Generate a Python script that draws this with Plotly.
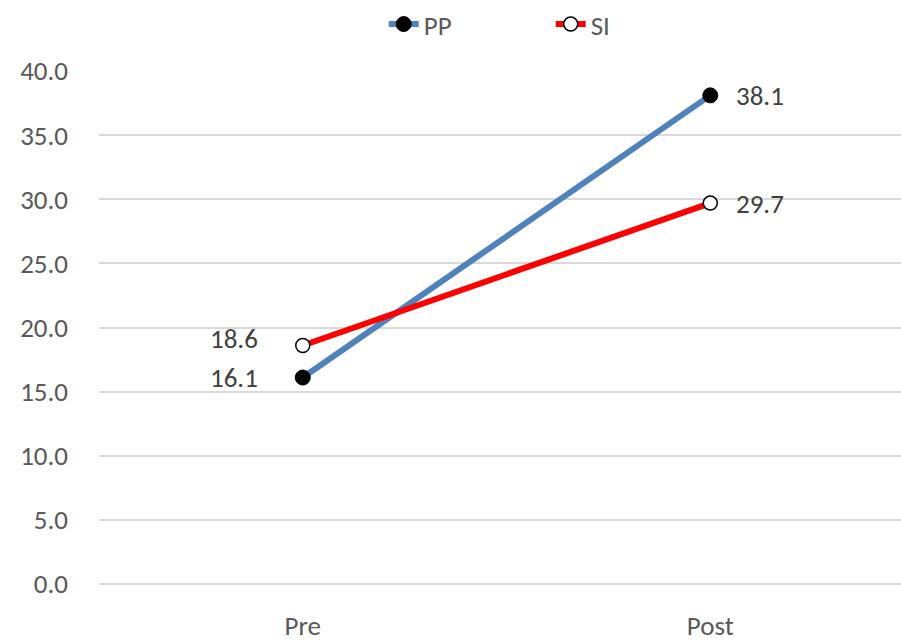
import plotly.graph_objects as go

# Mean scores before and after
categories = ["Pre", "Post"]
pp_values = [16.1, 38.1]
si_values = [18.6, 29.7]
y_ticks = [0, 5, 10, 15, 20, 25, 30, 35, 40]

FONT = "Carlito, Lato, sans-serif"
GRAY = "#595959"

fig = go.Figure()

fig.add_trace(go.Scatter(
    x=categories, y=pp_values, name="PP", mode="lines+markers",
    line=dict(color="#4F81BD", width=6),
    marker=dict(color="black", size=15, line=dict(color="black", width=1)),
))
fig.add_trace(go.Scatter(
    x=categories, y=si_values, name="SI", mode="lines+markers",
    line=dict(color="#FF0000", width=6),
    marker=dict(color="white", size=14, line=dict(color="black", width=1.5)),
))

# value labels: left of the first point, right of the second;
# the upper series' first label is lifted a little to clear the other one
label_lift = {"PP": 0, "SI": 7}
for name, series in (("PP", pp_values), ("SI", si_values)):
    for i, (cat, v) in enumerate(zip(categories, series)):
        left = i == 0
        fig.add_annotation(
            x=cat, y=v, text=f"{v:.1f}", showarrow=False,
            xanchor="right" if left else "left",
            xshift=-43 if left else 24,
            yshift=label_lift[name] if left else 0,
            font=dict(family=FONT, size=27, color="#404040"),
        )

fig.update_layout(
    width=901, height=641,
    margin=dict(l=99, r=0, t=71, b=57),
    paper_bgcolor="white", plot_bgcolor="white",
    showlegend=True,
    legend=dict(
        orientation="h", x=0.355, xref="paper", xanchor="left",
        y=1.0, yref="container", yanchor="top",
        font=dict(family=FONT, size=27, color=GRAY),
        entrywidth=122, entrywidthmode="pixels",
    ),
    font=dict(family=FONT, color=GRAY),
)

fig.update_xaxes(
    type="category", range=[-0.5, 1.468],
    showgrid=False, zeroline=False, showline=False,
    tickfont=dict(family=FONT, size=27, color=GRAY),
    ticks="", ticklabelstandoff=23,
)
fig.update_yaxes(
    range=[0, 40], tickvals=y_ticks,
    ticktext=[f"{t:.1f}" for t in y_ticks],
    showgrid=True, gridcolor="#D9D9D9", gridwidth=2,
    zeroline=True, zerolinecolor="#D9D9D9", zerolinewidth=2,
    showline=False,
    tickfont=dict(family=FONT, size=27, color=GRAY),
    ticks="", ticklabelstandoff=30,
)

fig.write_html("out.html")
